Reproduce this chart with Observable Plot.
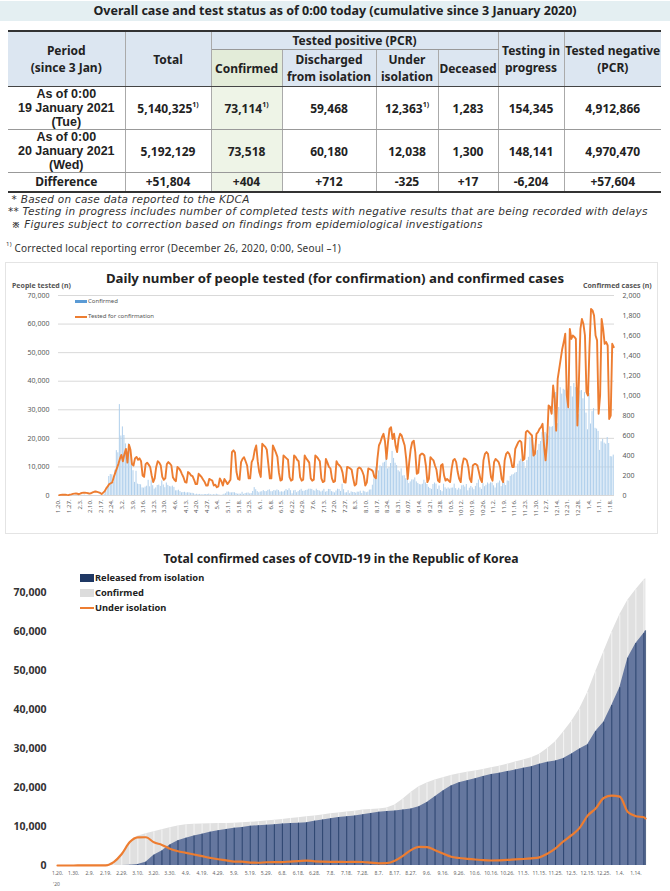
<!DOCTYPE html>
<html><head><meta charset="utf-8">
<script src="https://cdn.jsdelivr.net/npm/d3@7"></script>
<script src="https://cdn.jsdelivr.net/npm/@observablehq/plot@0.6"></script>
<style>
body{margin:0;width:670px;height:891px;position:relative;font-family:"Noto Sans",sans-serif;background:#fff;overflow:hidden;color:#222}
.abs{position:absolute}
#titlebar{left:0;top:1px;width:670px;height:20px;background:#e4eff2;text-align:center;font-weight:bold;font-size:12.5px;line-height:20px}
table{position:absolute;left:8px;top:30px;border-collapse:collapse;table-layout:fixed;width:653px;border-top:2px solid #333;border-bottom:2px solid #333}
td,th{padding:0;text-align:center;vertical-align:middle;font-weight:bold;font-size:12px;line-height:13px;border-left:1px solid #aaa;border-right:1px solid #aaa}
td:first-child,th:first-child{border-left:none}
td:last-child,th:last-child{border-right:none}
th{background:#dce6f1;line-height:17px}
th.conf{background:#e3ecd9}
td.conf{background:#eef4e7}
td.per{font-family:"Liberation Sans",Arial,sans-serif;font-size:12.5px;line-height:14px}
.dot{border-left:1px dotted #888 !important}
tr.hb th{border-bottom:1.5px solid #444}
tr.r td{border-bottom:1px solid #999}
sup{font-size:7px;vertical-align:6px;line-height:0}
.note{left:8px;font-family:"DejaVu Sans",sans-serif;font-style:italic;font-size:10.5px;letter-spacing:0.25px;color:#333;white-space:nowrap;line-height:12.3px}
.box1{left:5px;top:262px;width:651px;height:270px;border:1px solid #e4e4e4}
</style></head>
<body>
<div id="titlebar" class="abs">Overall case and test status as of 0:00 today (cumulative since 3 January 2020)</div>
<table>
<colgroup><col style="width:117px"><col style="width:86px"><col style="width:71px"><col style="width:94px"><col style="width:62px"><col style="width:60px"><col style="width:66px"><col style="width:97px"></colgroup>
<tr style="height:18px"><th rowspan="2" style="border-bottom:1.5px solid #444">Period<br>(since 3 Jan)</th><th rowspan="2" style="border-bottom:1.5px solid #444">Total</th><th colspan="4" style="border-bottom:1px solid #999">Tested positive (PCR)</th><th rowspan="2" style="border-bottom:1.5px solid #444">Testing in<br>progress</th><th rowspan="2" style="border-bottom:1.5px solid #444">Tested negative<br>(PCR)</th></tr>
<tr class="hb" style="height:37px"><th class="conf" style="border-left:1px solid #aaa">Confirmed</th><th>Discharged<br>from isolation</th><th class="dot">Under<br>isolation</th><th class="dot">Deceased</th></tr>
<tr class="r" style="height:43px"><td class="per">As of 0:00<br>19 January 2021<br>(Tue)</td><td>5,140,325<sup>1)</sup></td><td class="conf">73,114<sup>1)</sup></td><td>59,468</td><td class="dot">12,363<sup>1)</sup></td><td class="dot">1,283</td><td>154,345</td><td>4,912,866</td></tr>
<tr class="r" style="height:41px"><td class="per">As of 0:00<br>20 January 2021<br>(Wed)</td><td>5,192,129</td><td class="conf">73,518</td><td>60,180</td><td class="dot">12,038</td><td class="dot">1,300</td><td>148,141</td><td>4,970,470</td></tr>
<tr style="height:19px"><td>Difference</td><td>+51,804</td><td class="conf">+404</td><td>+712</td><td class="dot">-325</td><td class="dot">+17</td><td>-6,204</td><td>+57,604</td></tr>
</table>
<div class="abs note" style="top:193px">&nbsp;* Based on case data reported to the KDCA</div>
<div class="abs note" style="top:205.3px">** Testing in progress includes number of completed tests with negative results that are being recorded with delays</div>
<div class="abs note" style="top:217.6px">&nbsp;※ Figures subject to correction based on findings from epidemiological investigations</div>
<div class="abs" style="left:6px;top:241px;font-size:10px;color:#333;white-space:nowrap;letter-spacing:0.2px"><sup style="font-size:6px">1)</sup> Corrected local reporting error (December 26, 2020, 0:00, Seoul –1)</div>

<div class="abs box1"></div>
<div id="c1" class="abs" style="left:0;top:262px"></div>
<div class="abs" style="left:0;width:670px;top:269px;text-align:center;font-weight:bold;font-size:13.2px">Daily number of people tested (for confirmation) and confirmed cases</div>
<div class="abs" style="left:12px;top:281px;font-size:7px;font-weight:bold;color:#555">People tested (n)</div>
<div class="abs" style="left:583px;top:281px;font-size:7px;font-weight:bold;color:#555">Confirmed cases (n)</div>
<div class="abs" style="left:75px;top:300px;width:12px;height:3px;background:#5b9bd5"></div>
<div class="abs" style="left:88px;top:297px;font-size:6px;color:#555">Confirmed</div>
<div class="abs" style="left:75px;top:316px;width:12px;height:1.5px;background:#ed7d31"></div>
<div class="abs" style="left:88px;top:312px;font-size:6px;color:#555">Tested for confirmation</div>

<div id="c2" class="abs" style="left:0;top:540px"></div>
<div class="abs" style="left:6px;width:670px;top:550px;text-align:center;font-weight:bold;font-size:12.2px">Total confirmed cases of COVID-19 in the Republic of Korea</div>
<div class="abs" style="left:80px;top:574px;width:14px;height:8px;background:#1f3864"></div>
<div class="abs" style="left:95px;top:571px;font-size:9.3px;font-weight:bold">Released from isolation</div>
<div class="abs" style="left:80px;top:589px;width:14px;height:8px;background:#dcdcdc"></div>
<div class="abs" style="left:95px;top:586px;font-size:9.3px;font-weight:bold">Confirmed</div>
<div class="abs" style="left:80px;top:607px;width:14px;height:1.5px;background:#ed7d31"></div>
<div class="abs" style="left:95px;top:601px;font-size:9.3px;font-weight:bold">Under isolation</div>
<div class="abs" style="left:53px;top:881px;font-size:5px;color:#666">'20</div>

<script>
// ---------- Chart 1: daily data, 2020-01-20 .. 2021-01-20 ----------
const dailyConfirmed = [
1,0,0,0,1,0,1,1,0,0,3,4,
1,3,0,1,3,4,1,0,3,0,1,0,0,0,0,1,0,1,15,36,74,190,210,207,130,253,449,427,909,
595,686,600,516,438,518,483,367,248,131,242,114,110,107,76,74,84,93,152,87,147,98,64,76,100,104,91,146,105,78,125,
101,89,86,94,81,47,47,53,39,27,30,32,25,27,27,22,22,18,8,13,9,11,8,6,10,10,10,14,9,4,
9,6,13,8,3,2,4,12,18,34,35,27,26,29,27,19,13,15,13,32,12,20,23,25,16,19,40,79,58,39,27,
35,38,49,39,39,51,57,38,38,50,45,56,49,34,37,34,43,59,49,67,48,17,46,51,28,39,51,62,42,43,
50,54,63,63,61,48,44,63,50,45,35,44,62,33,39,61,60,39,34,26,45,63,59,41,113,58,25,28,48,18,36,
31,30,23,34,33,43,20,43,36,28,34,54,56,103,166,279,197,246,297,288,324,332,397,266,280,320,441,371,323,299,248,
235,267,195,198,168,167,119,136,156,155,176,136,121,109,106,113,153,126,110,82,70,61,110,125,114,61,95,50,38,113,
77,63,75,64,73,75,114,69,54,72,58,97,102,84,110,47,73,91,76,58,91,121,155,77,61,119,88,103,125,114,127,
124,97,75,118,125,145,89,143,126,100,146,143,191,205,208,223,230,313,343,363,386,330,271,349,382,583,569,503,450,438,
451,511,540,629,583,631,615,594,686,682,689,950,1030,718,880,1078,1014,1062,1053,1097,926,869,1090,985,1120,1080,970,808,1045,1050,967,
1029,824,657,1020,715,839,869,672,664,641,451,537,561,524,513,580,520,389,386,404
];
const dailyTests = [
150,200,250,300,280,200,150,
300,400,550,650,700,600,450,
700,900,1000,950,900,800,650,
800,1100,1300,1400,1250,1100,900,
500,1000,1500,2500,3200,4000,4300,
4600,6500,8000,9500,11000,12800,14200,
12000,14500,16300,11500,17800,16000,11000,
10500,13000,13500,12500,13000,12000,7000,
6500,11000,11500,10800,10000,7000,4700,
6000,10000,12000,11500,10500,6500,5500,
6000,11000,11700,11200,10500,6400,5500,
5000,10000,9500,8700,7500,6400,4700,
4500,8200,7800,7000,6800,5500,4000,
4000,7600,7000,6400,5500,4700,3500,
3500,5800,5500,5200,3500,3800,2900,
3200,6000,5000,3500,5800,5000,4000,
4700,5500,15200,15800,15000,8200,5800,
5500,11700,12800,13400,12000,10500,6000,
6000,11700,12800,15800,17500,12000,8200,
6500,18100,17500,17000,16000,11000,6000,
6000,17500,16300,15000,13500,8000,5200,
5500,14000,13500,13000,12500,6400,5200,
5500,14000,13500,12500,12000,6400,5200,
5500,14000,13000,12300,11500,6000,5200,
5500,14000,13500,12800,12000,6000,4700,
5000,12800,11500,10000,9500,6000,4700,
5000,12000,11000,10500,9800,8000,4700,
4500,10000,9800,9500,9000,6000,3500,
4000,9300,9800,9500,8500,7000,3500,
4500,9500,9200,9000,8500,6500,6000,
12800,17500,18700,20400,21600,19000,12800,
18700,23300,23900,19800,21600,17500,15200,
19800,21600,21000,19200,17500,12800,5800,
11700,16300,18700,19200,15200,7600,8000,
14000,14600,14600,14000,10500,4700,5800,
13400,12800,12300,10500,9000,5200,4700,
10500,11000,7000,5200,5800,5200,4700,
9300,12300,12800,11700,8200,5800,4700,
10500,13000,12800,12300,10000,5800,4700,
10500,11000,11000,10500,8200,5800,4700,
12300,14600,15200,14600,10500,6400,5200,
11700,12800,12300,11700,10000,5800,4700,
12300,14600,15200,14600,12800,10000,10000,
16300,17500,18700,19200,18700,12300,12800,
22200,22700,22200,21600,21000,14000,14600,
21600,22200,23300,23900,25100,17500,12300,
18700,31500,31000,28600,38500,33800,22700,
40800,44300,47800,51300,53700,56600,35000,
30900,58300,54800,56000,55500,54800,24500,
40000,58300,61800,60000,56000,36200,35000,
52000,65300,64800,63000,56000,54300,28600,
35000,61800,58300,53100,53700,52500,26800,
28000,53100,51900
];
const weekLabels = ["1.20.","1.27.","2.3.","2.10.","2.17.","2.24.","3.2.","3.9.","3.16.","3.23.","3.30.","4.6.","4.13.","4.20.","4.27.","5.4.","5.11.","5.18.","5.25.","6.1.","6.8.","6.15.","6.22.","6.29.","7.6.","7.13.","7.20.","7.27.","8.3.","8.10.","8.17.","8.24.","8.31.","9.07.","9.14.","9.21.","9.28.","10.5.","10.12.","10.19.","10.26.","11.2.","11.9.","11.16.","11.23.","11.30.","12.7.","12.14.","12.21.","12.28.","1.4.","1.11.","1.18."];
const testTicks = [0,10000,20000,30000,40000,50000,60000,70000];
const caseTicks = [0,200,400,600,800,1000,1200,1400,1600,1800,2000];

// ---------- Chart 2: cumulative, every 5 days from 2020-01-20, plus 2021-01-20 ----------
const cumConfirmed = [1,2,4,16,25,28,46,900,3000,6100,7513,8162,8652,9137,9661,10156,10423,10564,10661,10708,10761,10801,10840,10991,11078,11190,11402,11590,11814,12051,12257,12484,12715,12967,13244,13479,13711,13938,14203,14366,14519,14714,15515,17002,18706,20182,21177,21919,22504,23045,23516,23889,24239,24606,25035,25424,25955,26511,27050,27653,28546,30017,31735,34201,36915,40098,44364,49665,54770,59773,64264,68022,70728,73115,73518];
const cumReleased = [0,0,0,0,3,7,12,18,24,88,247,834,2612,3730,5228,6325,6973,7534,8042,8501,8922,9217,9568,9762,10066,10213,10295,10467,10669,10755,10850,10930,11364,11684,12019,12282,12519,12700,13007,13352,13666,13817,14006,14219,14461,15058,16146,17640,19077,20400,21198,21755,22271,22811,23310,23641,24075,24477,24910,25340,25958,26466,26825,27463,28611,29900,30964,34391,36714,40994,45600,53122,56903,59468,60180];
const underIsolation = [1,2,4,16,22,21,34,880,2950,6000,7200,7250,5950,5280,4275,3654,3246,2808,2387,1967,1593,1332,1016,969,749,711,838,851,872,1016,1127,1273,1069,1000,940,914,898,941,896,713,550,592,1204,2473,3932,4800,4697,3930,3060,2260,1923,1719,1543,1362,1281,1336,1423,1566,1663,1825,2094,3049,4395,6215,7764,9643,12800,14600,17300,17900,17657,13700,12640,12363,12038];
const tenDayLabels = ["1.20.","1.30.","2.9.","2.19.","2.29.","3.10.","3.20.","3.30.","4.9.","4.19.","4.29.","5.9.","5.19.","5.29.","6.8.","6.18.","6.28.","7.8.","7.18.","7.28.","8.7.","8.17.","8.27.","9.6.","9.16.","9.26.","10.6.","10.16.","10.26.","11.5.","11.15.","11.25.","12.5.","12.15.","12.25.","1.4.","1.14."];
const cumTicks = [0,10000,20000,30000,40000,50000,60000,70000];

const FONT = '"Noto Sans", sans-serif';
const start = new Date(Date.UTC(2020,0,20));
const end1 = new Date(Date.UTC(2021,0,21));
const days = d3.utcDay.range(start, end1);
const daily = days.map((d,i)=>({date:d, next:d3.utcDay.offset(d,1), mid:d3.utcHour.offset(d,12), confirmed:dailyConfirmed[i], tests:dailyTests[i]}));
const weekTicks = d3.utcDay.range(start, end1, 7);
const weekMap = new Map(weekTicks.map((d,i)=>[+d, weekLabels[i]]));
const RATIO = 70000/2000;

const c1 = Plot.plot({
  width:670, height:270, marginLeft:58, marginRight:56, marginTop:33, marginBottom:37,
  style:{fontFamily:FONT, fontSize:"7px", color:"#595959", background:"transparent", overflow:"visible"},
  x:{type:"utc", domain:[start,end1]},
  y:{domain:[0,70000]},
  marks:[
    Plot.gridY(testTicks, {stroke:"#d9d9d9", strokeOpacity:1}),
    Plot.rectY(daily, {x1:"date", x2:"next", y:d=>d.confirmed*RATIO, fill:"#b1d0ec", insetLeft:0.25, insetRight:0.25}),
    Plot.lineY(daily, {x:"mid", y:"tests", stroke:"#ed7d31", strokeWidth:1.9}),
    Plot.axisY(testTicks, {anchor:"left", tickSize:0, tickPadding:9, tickFormat:d3.format(","), label:null}),
    Plot.axisY(caseTicks.map(v=>v*RATIO), {anchor:"right", tickSize:0, tickPadding:8, tickFormat:d=>d3.format(",")(Math.round(d/RATIO)), label:null}),
    Plot.axisX(weekTicks, {tickSize:0, tickPadding:4, tickRotate:-90, fontSize:6, tickFormat:d=>weekMap.get(+d), label:null})
  ]
});
document.getElementById("c1").appendChild(c1);

const end2 = new Date(Date.UTC(2021,0,20));
const cumDates = d3.utcDay.range(start, end2, 5).concat([end2]);
const cum = cumDates.map((d,i)=>({date:d, confirmed:cumConfirmed[i], released:cumReleased[i], isolation:underIsolation[i]}));
const tenTicks = d3.utcDay.range(start, end2, 10);
const tenMap = new Map(tenTicks.map((d,i)=>[+d, tenDayLabels[i]]));

const c2 = Plot.plot({
  width:670, height:350, marginLeft:57, marginRight:25, marginTop:32.5, marginBottom:25,
  style:{fontFamily:FONT, fontSize:"5px", color:"#666", background:"transparent", overflow:"visible"},
  x:{type:"utc", domain:[start,end2]},
  y:{domain:[0,75000]},
  marks:[
    Plot.areaY(cum, {x:"date", y:"confirmed", fill:"#e0e0e0"}),
    Plot.ruleX(cum, {x:"date", y1:"released", y2:"confirmed", stroke:"#f4f4f4", strokeWidth:1}),
    Plot.areaY(cum, {x:"date", y:"released", fill:"#65779f"}),
    Plot.ruleX(cum, {x:"date", y:"released", stroke:"#1f3864", strokeWidth:1.1, strokeOpacity:0.75}),
    Plot.lineY(cum, {x:"date", y:"isolation", stroke:"#ed7d31", strokeWidth:2.2, curve:"monotone-x"}),
    Plot.axisY(cumTicks, {anchor:"left", tickSize:0, tickPadding:11, tickFormat:d3.format(","), fontSize:10.5, fontWeight:"bold", fill:"#333", label:null}),
    Plot.axisX(tenTicks, {tickSize:0, tickPadding:6, fontSize:5, tickFormat:d=>tenMap.get(+d), label:null})
  ]
});
document.getElementById("c2").appendChild(c2);
</script>
</body></html>
